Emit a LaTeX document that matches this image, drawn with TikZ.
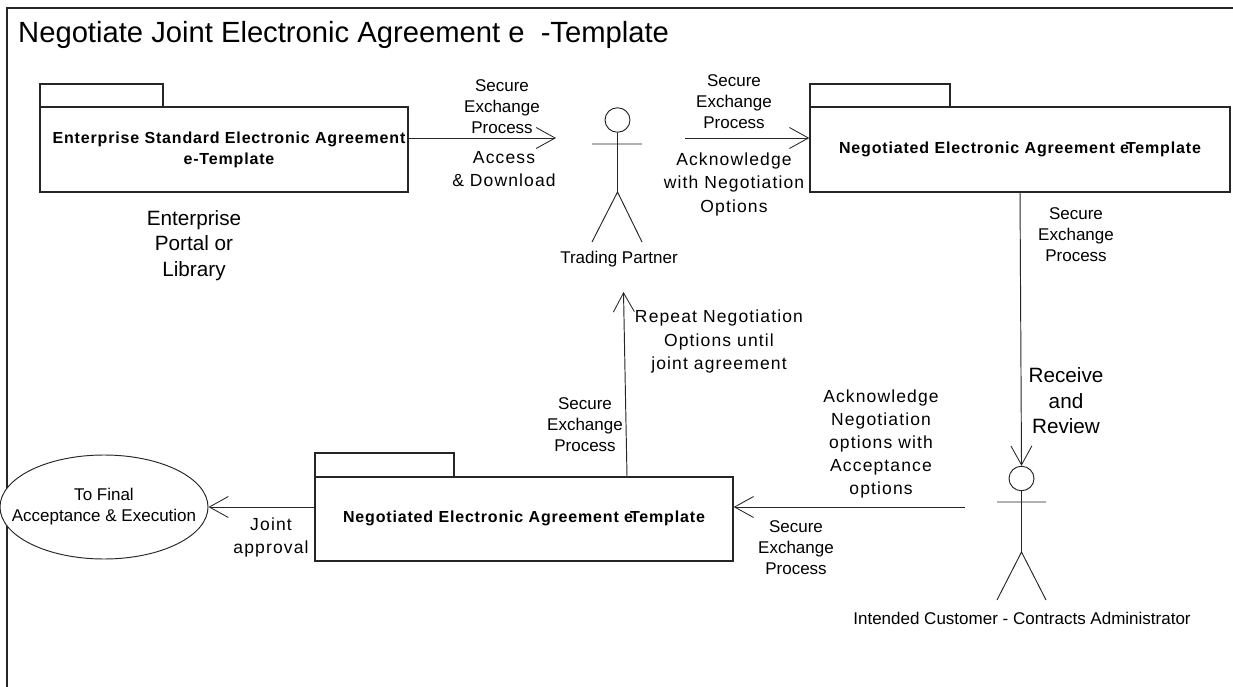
\documentclass[tikz,border=0pt]{standalone}
\usepackage{fontspec}
\usetikzlibrary{arrows.meta,shapes.geometric}
\setmainfont{Liberation Sans}
\newfontfamily\widefam[LetterSpace=6.5]{Liberation Sans}
\newfontfamily\boldfam[LetterSpace=5.2]{Liberation Sans Bold}
\tikzset{
  x=1pt,y=-1pt,
  line/.style={line width=.95pt,black!85},
  arr/.style={line,-{Straight Barb[length=19pt,width=21pt,line width=.85pt]}},
  pkg/.style={draw=black!85,line width=1.4pt,inner sep=0pt,fill=white},
  lab/.style={align=center,inner sep=0pt,font=\fontsize{17}{21}\selectfont},
  widelab/.style={align=center,inner sep=0pt,font=\fontsize{17.5}{23.5}\selectfont\widefam},
  biglab/.style={align=center,inner sep=0pt,font=\fontsize{20.7}{25.5}\selectfont},
  boldlab/.style={align=center,inner sep=0pt,font=\fontsize{16}{21}\selectfont\boldfam},
  head/.style={draw=black!85,line width=.95pt,ellipse,inner sep=0pt,minimum width=25pt,minimum height=24.5pt},
}
\begin{document}
\begin{tikzpicture}
\useasboundingbox (0,0) rectangle (1233,687);
% frame
\coordinate (fbl) at (7,687);
\coordinate (ftl) at (7,8);
\coordinate (ftr) at (1233,8);
\draw[line width=1.3pt,black!85] (fbl) -- (ftl) -- (ftr);
\node[anchor=base west,inner sep=0pt,font=\fontsize{29.2}{32}\selectfont] (title) at (18,43) {Negotiate Joint Electronic Agreement e\ \ -Template};
% packages
\node[pkg,minimum width=123pt,minimum height=23pt] (t1) at (101.5,95.5) {};
\node[pkg,minimum width=368pt,minimum height=85pt] (p1) at (224,149.5) {};
\node[pkg,minimum width=140pt,minimum height=23pt] (t2) at (880,95.5) {};
\node[pkg,minimum width=420pt,minimum height=85pt] (p2) at (1020,149.5) {};
\node[pkg,minimum width=139pt,minimum height=24pt] (t3) at (384.5,465) {};
\node[pkg,minimum width=418pt,minimum height=84pt] (p3) at (524,519) {};
\node[boldlab] (l1) at (229,149.5) {Enterprise Standard Electronic Agreement\\e-Template};
\node[boldlab] (l2) at (1020,149) {Negotiated Electronic Agreement e\kern-3ptTemplate};
\node[boldlab] (l3) at (524,518) {Negotiated Electronic Agreement e\kern-3ptTemplate};
% ellipse
\node[draw=black!85,line width=.95pt,ellipse,inner sep=0pt,minimum width=208pt,minimum height=104pt,fill=white] (final) at (104,507) {};
\node[lab] (finalt) at (104,506.5) {To Final\\Acceptance \& Execution};
% actor 1
\node[head] (h1) at (617.5,120) {};
\coordinate (a1l) at (592,144);
\coordinate (a1r) at (642,144);
\coordinate (b1) at (617.5,192);
\coordinate (f1l) at (592,242);
\coordinate (f1r) at (642,242);
\draw[line] (h1) -- (b1) (a1l) -- (a1r) (f1l) -- (b1) -- (f1r);
\node[lab] (n1t) at (619,259) {Trading Partner};
% actor 2
\node[head] (h2) at (1021.5,478.5) {};
\coordinate (a2l) at (997,502);
\coordinate (a2r) at (1046,502);
\coordinate (b2) at (1021.5,552);
\coordinate (f2l) at (997,600);
\coordinate (f2r) at (1046,600);
\draw[line] (h2) -- (b2) (a2l) -- (a2r) (f2l) -- (b2) -- (f2r);
\node[lab] (n2t) at (1022,618) {Intended Customer - Contracts Administrator};
% connectors
\coordinate (c1a) at (p1.east |- 0,138);
\coordinate (c1b) at (556,138);
\draw[arr] (c1a) -- (c1b);
\coordinate (c2a) at (685,138);
\coordinate (c2b) at (p2.west |- 0,138);
\draw[arr] (c2a) -- (c2b);
\coordinate (c3a) at (1020,192);
\draw[arr] (c3a) -- (h2.north);
\coordinate (c4a) at (965,507);
\coordinate (c4b) at (p3.east |- 0,507);
\draw[arr] (c4a) -- (c4b);
\coordinate (c5a) at (627,477);
\coordinate (c5b) at (623.5,292);
\draw[arr] (c5a) -- (c5b);
\coordinate (c6a) at (p3.west |- 0,507);
\draw[arr] (c6a) -- (final.east);
% labels
\node[lab] (s1) at (502,107) {Secure\\Exchange\\Process};
\node[widelab] (ad) at (504,169) {Access\\\& Download};
\node[biglab] (ep) at (194,245.5) {Enterprise\\Portal or\\Library};
\node[lab] (s2) at (734,102) {Secure\\Exchange\\Process};
\node[widelab] (ack) at (734,184) {Acknowledge\\with Negotiation\\Options};
\node[lab] (s3) at (1076,235) {Secure\\Exchange\\Process};
\node[biglab] (rr) at (1066,401) {Receive\\and\\Review};
\node[widelab] (rep) at (719,341.5) {Repeat Negotiation\\Options until\\joint agreement};
\node[lab] (s4) at (585,425) {Secure\\Exchange\\Process};
\node[widelab,font=\fontsize{17.5}{23}\selectfont\widefam] (ackn) at (881,444) {Acknowledge\\Negotiation\\options with\\Acceptance\\options};
\node[lab] (s5) at (796,547.5) {Secure\\Exchange\\Process};
\node[widelab] (ja) at (271,537.5) {Joint\\approval};
\end{tikzpicture}
\end{document}
